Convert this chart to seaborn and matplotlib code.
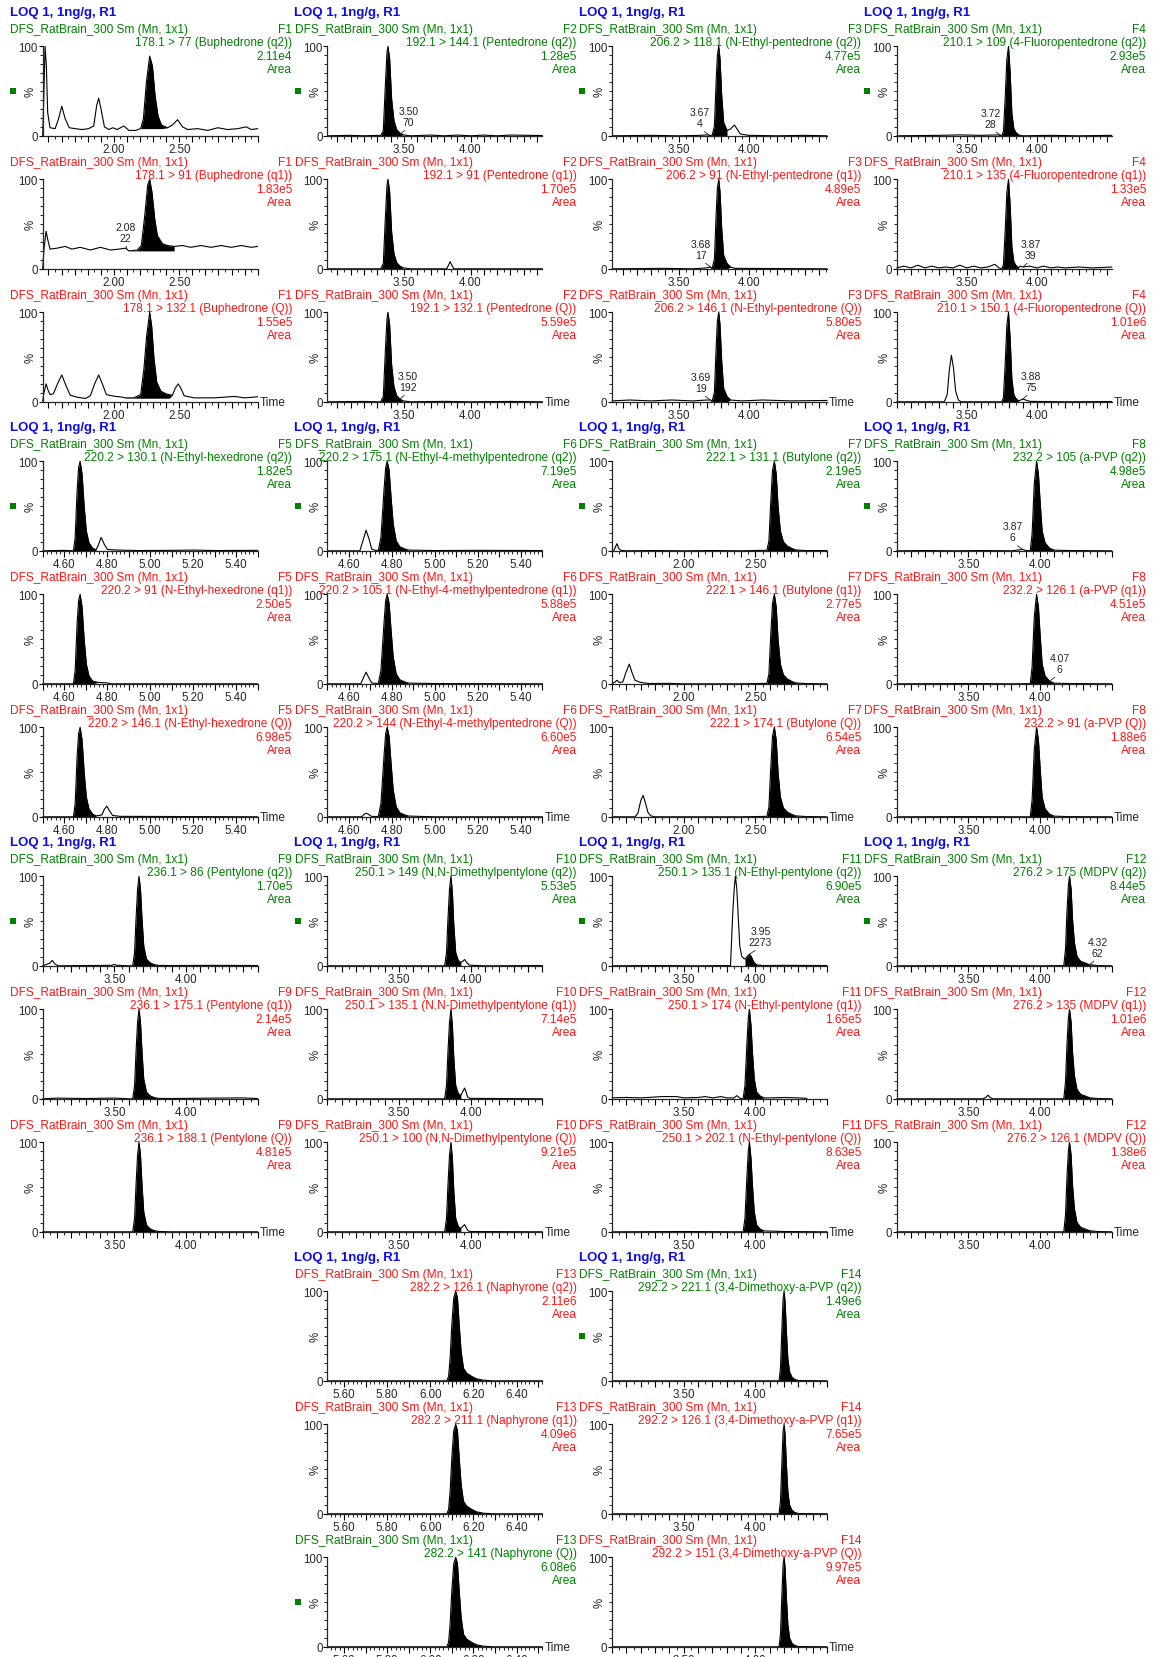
import numpy as np
import matplotlib
matplotlib.use("Agg")
import matplotlib.pyplot as plt
from matplotlib.ticker import FixedLocator, MultipleLocator, FuncFormatter
import seaborn as sns

W, H = 1153, 1658

run_title = "LOQ 1, 1ng/g, R1"
sample = "DFS_RatBrain_300 Sm (Mn, 1x1)"

compounds = ["Buphedrone", "Pentedrone", "N-Ethyl-pentedrone", "4-Fluoropentedrone",
             "N-Ethyl-hexedrone", "N-Ethyl-4-methylpentedrone", "Butylone", "a-PVP",
             "Pentylone", "N,N-Dimethylpentylone", "N-Ethyl-pentylone", "MDPV",
             "Naphyrone", "3,4-Dimethoxy-a-PVP"]
functions = ["F1", "F2", "F3", "F4", "F5", "F6", "F7", "F8", "F9", "F10", "F11", "F12", "F13", "F14"]
ion_tags = ["q2", "q1", "Q"]
transitions = [
    ["178.1 > 77", "178.1 > 91", "178.1 > 132.1"],
    ["192.1 > 144.1", "192.1 > 91", "192.1 > 132.1"],
    ["206.2 > 118.1", "206.2 > 91", "206.2 > 146.1"],
    ["210.1 > 109", "210.1 > 135", "210.1 > 150.1"],
    ["220.2 > 130.1", "220.2 > 91", "220.2 > 146.1"],
    ["220.2 > 175.1", "220.2 > 105.1", "220.2 > 144"],
    ["222.1 > 131.1", "222.1 > 146.1", "222.1 > 174.1"],
    ["232.2 > 105", "232.2 > 126.1", "232.2 > 91"],
    ["236.1 > 86", "236.1 > 175.1", "236.1 > 188.1"],
    ["250.1 > 149", "250.1 > 135.1", "250.1 > 100"],
    ["250.1 > 135.1", "250.1 > 174", "250.1 > 202.1"],
    ["276.2 > 175", "276.2 > 135", "276.2 > 126.1"],
    ["282.2 > 126.1", "282.2 > 211.1", "282.2 > 141"],
    ["292.2 > 221.1", "292.2 > 126.1", "292.2 > 151"],
]
areas = [
    ["2.11e4", "1.83e5", "1.55e5"],
    ["1.28e5", "1.70e5", "5.59e5"],
    ["4.77e5", "4.89e5", "5.80e5"],
    ["2.93e5", "1.33e5", "1.01e6"],
    ["1.82e5", "2.50e5", "6.98e5"],
    ["7.19e5", "5.88e5", "6.60e5"],
    ["2.19e5", "2.77e5", "6.54e5"],
    ["4.98e5", "4.51e5", "1.88e6"],
    ["1.70e5", "2.14e5", "4.81e5"],
    ["5.53e5", "7.14e5", "9.21e5"],
    ["6.90e5", "1.65e5", "8.63e5"],
    ["8.44e5", "1.01e6", "1.38e6"],
    ["2.11e6", "4.09e6", "6.08e6"],
    ["1.49e6", "7.65e5", "9.97e5"],
]
green_row = [0, 0, 0, 0, 0, 0, 0, 0, 0, 0, 0, 0, 2, 0]
time_windows = [(1.456, 3.10), (2.925, 4.54), (3.024, 4.56), (3.0, 4.536),
                (4.5, 5.5), (4.5, 5.5), (1.5, 3.0), (3.0, 4.5),
                (3.0, 4.5), (3.0, 4.5), (3.0, 4.5), (3.0, 4.5),
                (5.523, 6.52), (3.0, 4.5)]
label_step = [0.5, 0.5, 0.5, 0.5, 0.2, 0.2, 0.5, 0.5, 0.5, 0.5, 0.5, 0.5, 0.2, 0.5]

# ---- traces (time, % intensity) ----
buphedrone = [
    [(1.456, 0), (1.464, 41), (1.474, 100), (1.484, 78), (1.494, 26), (1.512, 9), (1.551, 8), (1.577, 19),
     (1.602, 33), (1.628, 19), (1.659, 9), (1.705, 8), (1.756, 7), (1.807, 8), (1.846, 11), (1.869, 34),
     (1.884, 42), (1.902, 30), (1.928, 10), (1.961, 7), (1.992, 9), (2.025, 7), (2.077, 11), (2.115, 6),
     (2.166, 6), (2.205, 8), (2.226, 19), (2.249, 60), (2.274, 89), (2.295, 78), (2.315, 45), (2.338, 22),
     (2.364, 12), (2.410, 9), (2.448, 12), (2.487, 18), (2.525, 10), (2.564, 7), (2.641, 8), (2.718, 6),
     (2.795, 9), (2.871, 7), (2.948, 8), (3.012, 10), (3.051, 7), (3.10, 8)],
    [(1.456, 0), (1.466, 22), (1.482, 42), (1.494, 33), (1.512, 22), (1.564, 23), (1.628, 25), (1.679, 22),
     (1.743, 24), (1.820, 21), (1.897, 24), (1.974, 21), (2.038, 22), (2.090, 23), (2.115, 20), (2.179, 21),
     (2.210, 26), (2.236, 59), (2.259, 94), (2.274, 100), (2.292, 85), (2.313, 55), (2.333, 37), (2.372, 28),
     (2.410, 26), (2.461, 25), (2.525, 26), (2.589, 24), (2.667, 26), (2.743, 24), (2.820, 26), (2.897, 24),
     (2.974, 26), (3.051, 24), (3.10, 25)],
    [(1.456, 0.7), (1.464, 9), (1.482, 20), (1.497, 13), (1.512, 8), (1.538, 9), (1.569, 20), (1.602, 30),
     (1.633, 18.5), (1.666, 7.4), (1.718, 5.2), (1.782, 3.7), (1.820, 6.7), (1.853, 20), (1.884, 30),
     (1.912, 20), (1.943, 8), (2.0, 6.3), (2.064, 5.2), (2.089, 4.4), (2.153, 4.4), (2.205, 8), (2.230, 37),
     (2.251, 74), (2.274, 100), (2.289, 85), (2.307, 48), (2.328, 22), (2.359, 12), (2.397, 9), (2.423, 8),
     (2.448, 7.4), (2.469, 15), (2.492, 20), (2.513, 15), (2.538, 6.7), (2.615, 4.4), (2.769, 4.4),
     (2.923, 6), (3.0, 4.4), (3.10, 5.6)],
]
pentedrone_peak = [(3.325, 0), (3.345, 6), (3.36, 56), (3.3725, 93), (3.38, 100), (3.3925, 86), (3.4075, 41),
                   (3.425, 17), (3.445, 7), (3.47, 3), (3.495, 1)]
pentedrone = [
    [(2.925, 0), (3.10, 0.5), (3.20, 0), (3.30, 0.5)] + pentedrone_peak +
    [(3.55, 0), (3.70, 0.8), (3.80, 0), (3.90, 0.8), (4.00, 0), (4.10, 0.8), (4.20, 0), (4.30, 0.8), (4.54, 0.3)],
    [(2.925, 0), (3.30, 0)] + pentedrone_peak +
    [(3.55, 0), (3.82, 0), (3.835, 4), (3.847, 8), (3.86, 4), (3.875, 0), (4.54, 0)],
    [(2.925, 0), (3.20, 0.4), (3.30, 0)] + pentedrone_peak +
    [(3.55, 0), (3.80, 0.5), (4.0, 0), (4.3, 0.4), (4.54, 0)],
]
ethylpentedrone_peak = [(3.738, 0), (3.755, 11), (3.767, 60), (3.776, 90), (3.786, 100), (3.795, 86),
                        (3.807, 45), (3.821, 15), (3.845, 6)]
ethylpentedrone = [
    [(3.024, 0), (3.30, 0.5), (3.50, 0), (3.65, 0.5), (3.70, 1), (3.721, 0.5)] + ethylpentedrone_peak +
    [(3.869, 7.5), (3.898, 12), (3.917, 7.5), (3.94, 2), (4.0, 0.5), (4.2, 0), (4.4, 0.5), (4.56, 0)],
    [(3.024, 0), (3.40, 0.5), (3.60, 0), (3.70, 1), (3.728, 2)] + ethylpentedrone_peak +
    [(3.87, 2), (3.90, 0.5), (4.56, 0)],
    [(3.024, 1), (3.15, 2), (3.30, 1), (3.45, 2), (3.60, 1), (3.70, 2), (3.728, 2)] + ethylpentedrone_peak +
    [(3.87, 2), (3.95, 1), (4.1, 2), (4.3, 1), (4.56, 1.5)],
]
fluoro_peak = [(3.75, 0), (3.762, 5), (3.775, 45), (3.786, 85), (3.798, 100), (3.81, 70), (3.822, 25),
               (3.836, 8), (3.85, 4), (3.87, 1)]
fluoropentedrone = [
    [(3.0, 0), (3.3, 0.5), (3.45, 1), (3.6, 0.5), (3.72, 1)] + fluoro_peak +
    [(3.9, 0), (4.1, 0.5), (4.3, 0), (4.536, 0.5)],
    [(3.0, 1), (3.05, 3), (3.1, 1), (3.15, 4), (3.2, 1), (3.25, 3), (3.3, 1), (3.35, 2), (3.4, 1), (3.45, 4),
     (3.5, 1), (3.55, 3), (3.6, 1), (3.65, 2), (3.7, 5), (3.73, 1)] + fluoro_peak +
    [(3.88, 3), (3.90, 2), (3.95, 3), (4.0, 1), (4.05, 3), (4.1, 1), (4.15, 2), (4.2, 1), (4.3, 2), (4.4, 1),
     (4.536, 2)],
    [(3.0, 0), (3.34, 0), (3.36, 8), (3.375, 35), (3.39, 52), (3.405, 38), (3.42, 12), (3.44, 2), (3.46, 0)] +
    fluoro_peak + [(3.90, 3), (3.95, 0.5), (4.2, 0), (4.536, 0.3)],
]
hexedrone_peak = [(4.643, 0), (4.651, 15), (4.66, 67), (4.667, 93), (4.674, 100), (4.683, 86), (4.693, 49),
                  (4.703, 22), (4.715, 9), (4.732, 3)]
hexedrone = [
    [(4.5, 0), (4.6, 0.5)] + hexedrone_peak +
    [(4.748, 1), (4.758, 6), (4.772, 15), (4.786, 7.5), (4.801, 1.5), (4.85, 0.8), (4.95, 0.3), (5.1, 0.5),
     (5.2, 0.8), (5.3, 0.3), (5.5, 0.5)],
    [(4.5, 0)] + hexedrone_peak + [(4.76, 1.5), (4.80, 1), (4.82, 0), (5.5, 0)],
    [(4.5, 0)] + hexedrone_peak +
    [(4.748, 1), (4.775, 2), (4.786, 8), (4.798, 12), (4.81, 7), (4.825, 1.5), (4.86, 0.5), (5.5, 0)],
]
methylpentedrone_peak = [(4.737, 0.5), (4.749, 15), (4.763, 67), (4.771, 93), (4.778, 100), (4.787, 90),
                         (4.796, 60), (4.806, 30), (4.82, 11), (4.837, 4.5), (4.861, 2), (4.878, 0.8)]
methylpentedrone = [
    [(4.5, 0), (4.651, 0), (4.665, 11), (4.68, 23), (4.694, 13), (4.706, 2), (4.723, 0.5)] +
    methylpentedrone_peak + [(5.0, 0.3), (5.2, 0.5), (5.5, 0.3)],
    [(4.5, 0), (4.655, 0), (4.668, 7), (4.68, 13), (4.692, 7), (4.706, 1), (4.723, 0.5)] +
    methylpentedrone_peak + [(5.0, 0.3), (5.5, 0)],
    [(4.5, 0), (4.66, 0), (4.672, 3), (4.68, 4), (4.69, 3), (4.705, 0.5), (4.723, 0.3)] +
    methylpentedrone_peak + [(5.0, 0), (5.5, 0)],
]
butylone_peak = [(2.58, 0.5), (2.594, 11), (2.606, 52), (2.619, 90), (2.632, 100), (2.645, 86), (2.658, 49),
                 (2.674, 22), (2.695, 10), (2.721, 5.5), (2.755, 2.6), (2.781, 1)]
butylone = [
    [(1.5, 0), (1.515, 1), (1.525, 5), (1.534, 8), (1.545, 3), (1.56, 0.5), (1.60, 0), (1.8, 0.3), (2.0, 0),
     (2.2, 0.3), (2.4, 0), (2.55, 0.5)] + butylone_peak + [(2.85, 0.3), (3.0, 0.3)],
    [(1.5, 0), (1.52, 2), (1.534, 4), (1.55, 1.5), (1.575, 2), (1.595, 12), (1.62, 22), (1.64, 12), (1.66, 4),
     (1.69, 2), (1.72, 1), (1.76, 0.3), (1.9, 0.5), (2.0, 0), (2.4, 0)] + butylone_peak + [(2.85, 0.3), (3.0, 0)],
    [(1.5, 0), (1.66, 0), (1.68, 4), (1.70, 18), (1.716, 24), (1.73, 17), (1.75, 5), (1.77, 1), (1.80, 0),
     (2.4, 0)] + butylone_peak + [(2.85, 0.3), (3.0, 0)],
]
apvp_peak = [(3.931, 0), (3.944, 19), (3.959, 75), (3.975, 100), (3.988, 86), (4.001, 52), (4.014, 22),
             (4.034, 9), (4.065, 3), (4.099, 0.7)]
apvp = [
    [(3.0, 0), (3.2, 0.3), (3.4, 0), (3.6, 0.3), (3.8, 0), (3.879, 1.5), (3.90, 0.3)] + apvp_peak +
    [(4.2, 0.3), (4.5, 0)],
    [(3.0, 0), (3.5, 0.3), (3.8, 0), (3.90, 0.2)] + apvp_peak + [(4.2, 0.3), (4.5, 0)],
    [(3.0, 0), (3.5, 0.2), (3.9, 0)] + apvp_peak + [(4.2, 0.2), (4.5, 0)],
]
pentylone_peak = [(3.628, 0), (3.641, 15), (3.651, 52), (3.662, 86), (3.672, 100), (3.682, 86), (3.693, 52),
                  (3.705, 22), (3.724, 7.5), (3.749, 3.4), (3.775, 1.5), (3.809, 0.4)]
pentylone = [
    [(3.0, 0), (3.05, 3), (3.067, 6), (3.085, 2), (3.11, 0), (3.3, 0.3), (3.48, 0.5), (3.50, 1.5), (3.52, 0.5),
     (3.60, 0)] + pentylone_peak + [(3.9, 0.3), (4.2, 0.5), (4.5, 0.3)],
    [(3.0, 0), (3.1, 0.8), (3.3, 0.3), (3.5, 0.8), (3.6, 0)] + pentylone_peak +
    [(3.9, 0.3), (4.2, 0.8), (4.4, 1), (4.5, 0.3)],
    [(3.0, 0), (3.6, 0)] + pentylone_peak + [(3.9, 0), (4.5, 0)],
]
dimethylpentylone_peak = [(3.818, 0), (3.831, 15), (3.841, 52), (3.852, 86), (3.862, 100), (3.872, 82),
                          (3.882, 45), (3.895, 15), (3.913, 6), (3.931, 3.7)]
dimethylpentylone = [
    [(3.0, 0), (3.8, 0)] + dimethylpentylone_peak +
    [(3.944, 5), (3.957, 7), (3.972, 3.7), (3.99, 0.7), (4.1, 0), (4.5, 0.3)],
    [(3.0, 0), (3.8, 0)] + dimethylpentylone_peak +
    [(3.944, 8), (3.957, 12), (3.967, 8), (3.978, 2), (3.995, 0.5), (4.5, 0)],
    [(3.0, 0), (3.8, 0)] + dimethylpentylone_peak +
    [(3.944, 6), (3.957, 8), (3.967, 5), (3.98, 1.5), (3.995, 0.3), (4.5, 0)],
]
ethylpentylone_peak = [(3.914, 0), (3.927, 15), (3.94, 60), (3.95, 90), (3.958, 100), (3.969, 82),
                       (3.979, 52), (3.992, 22), (4.008, 7.5), (4.034, 3), (4.06, 1)]
ethylpentylone = [
    [(3.0, 0), (3.3, 0.3), (3.6, 0), (3.80, 0.3), (3.826, 0), (3.842, 60), (3.852, 86), (3.86, 100),
     (3.87, 86), (3.881, 52), (3.891, 22), (3.904, 11), (3.919, 8), (3.927, 7.5), (3.943, 10.4), (3.958, 13),
     (3.971, 10.4), (3.987, 4.5), (4.008, 1), (4.05, 0.3), (4.2, 0.5), (4.5, 0.3)],
    [(3.0, 1), (3.1, 1.5), (3.2, 1), (3.35, 2.5), (3.45, 2.5), (3.5, 1), (3.6, 1.5), (3.65, 2.5), (3.7, 1),
     (3.76, 2.5), (3.80, 1), (3.85, 1), (3.87, 3.5), (3.89, 1), (3.905, 0)] + ethylpentylone_peak +
    [(4.1, 1), (4.2, 1.5), (4.3, 1), (4.36, 0.5)],
    [(3.0, 0), (3.5, 0.3), (3.9, 0)] + ethylpentylone_peak + [(4.2, 0.3), (4.5, 0)],
]
mdpv_peak = [(4.165, 0), (4.177, 19), (4.187, 60), (4.197, 90), (4.205, 100), (4.216, 86), (4.226, 52),
             (4.239, 26), (4.257, 10.5), (4.283, 5), (4.317, 3), (4.345, 1.2)]
mdpv = [
    [(3.0, 0), (3.5, 0.3), (4.0, 0), (4.15, 0.3)] + mdpv_peak + [(4.4, 0.3), (4.5, 0)],
    [(3.0, 0), (3.6, 0), (3.62, 1.5), (3.636, 4), (3.65, 1.5), (3.67, 0), (4.15, 0)] + mdpv_peak +
    [(4.4, 0.3), (4.5, 0)],
    [(3.0, 0), (4.15, 0)] + mdpv_peak + [(4.4, 0.3), (4.5, 0)],
]
naphyrone_peak = [(6.077, 0), (6.085, 5), (6.092, 25), (6.10, 63), (6.109, 93), (6.118, 100), (6.126, 93),
                  (6.134, 63), (6.143, 33), (6.154, 14), (6.169, 8.6), (6.192, 5), (6.215, 2.2), (6.246, 0.7),
                  (6.29, 0)]
naphyrone = [
    [(5.523, 0), (6.06, 0)] + naphyrone_peak + [(6.52, 0)],
    [(5.523, 0), (6.06, 0)] + naphyrone_peak + [(6.52, 0)],
    [(5.523, 0), (6.06, 0)] + naphyrone_peak + [(6.52, 0)],
]
dimethoxy_peak = [(4.165, 0), (4.175, 15), (4.185, 60), (4.193, 92), (4.20, 100), (4.207, 88), (4.216, 55),
                  (4.226, 25), (4.238, 10), (4.255, 4), (4.275, 1.5), (4.30, 0.3)]
dimethoxy = [
    [(3.0, 0), (4.15, 0)] + dimethoxy_peak + [(4.5, 0)],
    [(3.0, 0), (4.15, 0)] + dimethoxy_peak + [(4.5, 0)],
    [(3.0, 0), (4.15, 0)] + dimethoxy_peak + [(4.5, 0)],
]
traces = [buphedrone, pentedrone, ethylpentedrone, fluoropentedrone, hexedrone, methylpentedrone,
          butylone, apvp, pentylone, dimethylpentylone, ethylpentylone, mdpv, naphyrone, dimethoxy]

# integrated (filled) window per panel: start, end, baseline level
fills = [
    [(2.205, 2.364, 8), (2.115, 2.461, 20), (2.089, 2.423, 4)],
    [(3.325, 3.47, 0), (3.325, 3.47, 0), (3.325, 3.47, 0)],
    [(3.738, 3.845, 0), (3.738, 3.845, 0), (3.738, 3.845, 0)],
    [(3.75, 3.87, 0), (3.75, 3.87, 0), (3.75, 3.87, 0)],
    [(4.643, 4.748, 0), (4.643, 4.732, 0), (4.643, 4.748, 0)],
    [(4.737, 4.861, 0), (4.737, 4.861, 0), (4.737, 4.861, 0)],
    [(2.58, 2.781, 0), (2.58, 2.781, 0), (2.58, 2.781, 0)],
    [(3.931, 4.065, 0), (3.931, 4.065, 0), (3.931, 4.065, 0)],
    [(3.628, 3.775, 0), (3.628, 3.775, 0), (3.628, 3.775, 0)],
    [(3.818, 3.931, 0), (3.818, 3.931, 0), (3.818, 3.931, 0)],
    [(3.927, 4.008, 0), (3.914, 4.034, 0), (3.914, 4.034, 0)],
    [(4.165, 4.345, 0), (4.165, 4.345, 0), (4.165, 4.345, 0)],
    [(6.077, 6.29, 0), (6.077, 6.29, 0), (6.077, 6.29, 0)],
    [(4.165, 4.30, 0), (4.165, 4.30, 0), (4.165, 4.30, 0)],
]

# peak labels: compound, row, retention time, area, point (t, %), text side offset (px)
peak_labels = [
    (0, 1, "2.08", "22", 2.102, 21, -2),
    (1, 0, "3.50", "70", 3.475, 2, 8),
    (1, 2, "3.50", "192", 3.47, 3, 8),
    (2, 0, "3.67", "4", 3.721, 0.5, -10),
    (2, 1, "3.68", "17", 3.728, 2, -10),
    (2, 2, "3.69", "19", 3.728, 2, -10),
    (3, 0, "3.72", "28", 3.75, 0, -11),
    (3, 1, "3.87", "39", 3.90, 2, 8),
    (3, 2, "3.88", "75", 3.90, 3, 8),
    (7, 0, "3.87", "6", 3.879, 1.5, -10),
    (7, 1, "4.07", "6", 4.065, 3, 10),
    (10, 0, "3.95", "2273", 3.958, 13, 11),
    (11, 0, "4.32", "62", 4.345, 1.2, 8),
]

GREEN = "#008000"
RED = "#ff1414"
BLUE = "#0c0ce6"
FS = 8.6

sns.set_style("ticks")
plt.rcParams["font.family"] = ["Liberation Sans", "DejaVu Sans"]

fig = plt.figure(figsize=(W / 100, H / 100), dpi=100)

slots = [(g, c) for g in range(3) for c in range(4)] + [(3, 1), (3, 2)]
axes = {}


def tick_text(v, t0, t1, step):
    # MassLynx style: label only multiples of the step, not squeezed against the axis ends
    if abs(v / step - round(v / step)) > 1e-6:
        return ""
    px = (v - t0) / (t1 - t0) * 215
    if px < 13 or px > 195:
        return ""
    return "%.2f" % v


for i, name in enumerate(compounds):
    g, c = slots[i]
    col_x0 = 284.7 * c
    t0, t1 = time_windows[i]
    step = label_step[i]
    for r in range(3):
        top = 47.3 + 415 * g + 133 * r
        ax = fig.add_axes([(col_x0 + 42.7) / W, 1 - (top + 89.5) / H, 215 / W, 89.5 / H])
        ax.patch.set_alpha(0)
        axes[(i, r)] = ax

        pts = np.array(traces[i][r], dtype=float)
        t, y = pts[:, 0], pts[:, 1]
        fs, fe, fb = fills[i][r]
        ax.fill_between(t, y, fb, where=(t >= fs - 1e-9) & (t <= fe + 1e-9), color="black", lw=0,
                        interpolate=True, clip_on=False)
        sns.lineplot(x=t, y=y, ax=ax, color="black", linewidth=0.8, estimator=None, sort=False,
                     legend=False, clip_on=False)

        ax.set_xlim(t0, t1)
        ax.set_ylim(0, 100)
        sns.despine(ax=ax)
        for s in ("left", "bottom"):
            ax.spines[s].set_linewidth(0.9)

        major = np.round(np.arange(np.ceil(t0 * 10) / 10, t1 + 1e-9, 0.1), 2)
        minor_step = 0.02 if step == 0.2 else 0.05
        minor = np.round(np.arange(np.ceil(t0 / minor_step) * minor_step, t1 + 1e-9, minor_step), 3)
        ax.xaxis.set_major_locator(FixedLocator(major))
        ax.xaxis.set_minor_locator(FixedLocator(minor))
        ax.xaxis.set_major_formatter(FuncFormatter(
            lambda v, p, a=t0, b=t1, s=step: tick_text(v, a, b, s)))
        ax.set_yticks([0, 100])
        ax.set_yticklabels(["0", "100"])
        ax.yaxis.set_minor_locator(MultipleLocator(10))
        ax.tick_params(axis="x", which="major", length=4, width=0.8, labelsize=8.3, pad=1, color="black")
        ax.tick_params(axis="x", which="minor", length=2, width=0.6, color="black")
        ax.tick_params(axis="y", which="major", length=3, width=0.8, labelsize=8.3, pad=0.5, color="black")
        ax.tick_params(axis="y", which="minor", length=2, width=0.6, color="black")
        ax.set_xlabel("")
        ax.set_ylabel("%", fontsize=8.3, rotation=90)
        ax.yaxis.set_label_coords(-6 / 215, 0.5)

        if r == 2:
            ax.text(1 + 2 / 215, 0, "Time", transform=ax.transAxes, ha="left", va="center", fontsize=8.6)

        color = GREEN if r == green_row[i] else RED
        fx = lambda px: px / W
        fy = lambda py: 1 - py / H
        if r == 0:
            fig.text(fx(col_x0 + 9.5), fy(top - 34), run_title, color=BLUE, fontsize=9.5,
                     fontweight="bold", ha="left", va="center")
        fig.text(fx(col_x0 + 10), fy(top - 17.5), sample, color=color, fontsize=FS, ha="left", va="center")
        fig.text(fx(col_x0 + 292), fy(top - 17.5), functions[i], color=color, fontsize=FS,
                 ha="right", va="center")
        fig.text(fx(col_x0 + 292), fy(top - 4), "%s (%s (%s))" % (transitions[i][r], name, ion_tags[r]),
                 color=color, fontsize=FS, ha="right", va="center")
        fig.text(fx(col_x0 + 292), fy(top + 9.5), areas[i][r], color=color, fontsize=FS,
                 ha="right", va="center")
        fig.text(fx(col_x0 + 292), fy(top + 22.5), "Area", color=color, fontsize=FS,
                 ha="right", va="center")
        if r == green_row[i]:
            fig.patches.append(plt.Rectangle((fx(col_x0 + 10), fy(top + 47.5)), 6 / W, 6 / H,
                                             transform=fig.transFigure, color=GREEN, lw=0))

for ci, r, rt, ar, tp, yp, dx in peak_labels:
    ax = axes[(ci, r)]
    ax.annotate(rt + "\n" + ar, xy=(tp, yp), xytext=(dx, 7), textcoords="offset pixels",
                ha="center", va="bottom", fontsize=7.5, color="#222222", linespacing=1.15,
                annotation_clip=False,
                arrowprops=dict(arrowstyle="-", lw=0.6, color="#222222", shrinkA=0, shrinkB=0,
                                relpos=(0.5, 0)))

fig.savefig("out.png", dpi=100)
